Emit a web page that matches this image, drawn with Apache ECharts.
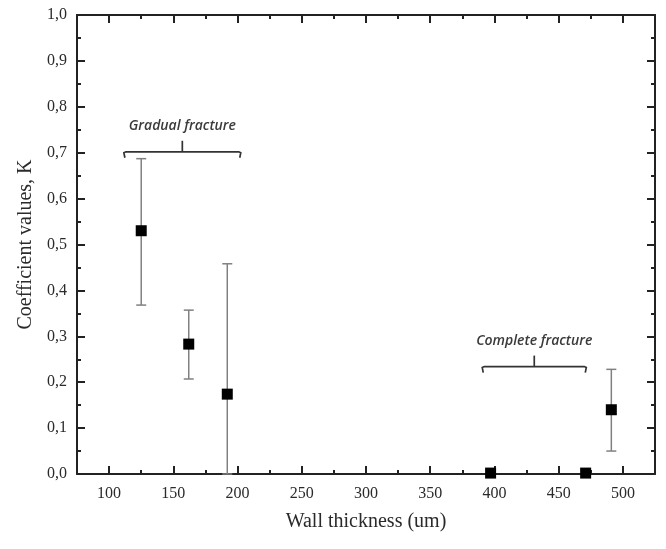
<!DOCTYPE html>
<html>
<head>
<meta charset="utf-8">
<script src="https://cdn.jsdelivr.net/npm/echarts@6/dist/echarts.min.js"></script>
<style>html,body{margin:0;padding:0;background:#fff}#c{width:666px;height:549px}</style>
</head>
<body>
<div id="c"></div>
<script>
// ---- data ----
var thickness = [125, 162, 192, 397, 471, 491];
var kValues   = [0.53, 0.283, 0.174, 0.002, 0.002, 0.14];
var errLow    = [0.368, 0.207, 0.0, null, null, 0.05];
var errHigh   = [0.687, 0.357, 0.458, null, null, 0.228];
var xMajorTicks = [100, 150, 200, 250, 300, 350, 400, 450, 500];
var xMinorTicks = [125, 175, 225, 275, 325, 375, 425, 475];
var bracketStart = [111.5, 390.5];
var bracketEnd   = [202.5, 471.5];
var bracketMid   = [157, 431];
var bracketLevel = [0.702, 0.234];
var bracketLabel = ['Gradual fracture', 'Complete fracture'];

var errData = [];
for (var i = 0; i < thickness.length; i++) {
  if (errLow[i] !== null) errData.push([thickness[i], errLow[i], errHigh[i]]);
}
var pointData = thickness.map(function (t, i) { return [t, kValues[i]]; });
var bracketData = bracketStart.map(function (s, i) {
  return [s, bracketEnd[i], bracketMid[i], bracketLevel[i], bracketLabel[i]];
});

var AX = '#222';
var serif = 'Liberation Serif';
function xAxisDef(pos, major, labels) {
  return {
    type: 'value', position: pos, min: 75, max: 525,
    axisLine: { show: major, onZero: false, lineStyle: { color: AX, width: 2 } },
    axisTick: { show: true, inside: true, length: major ? 8 : 4,
      customValues: major ? xMajorTicks : xMinorTicks,
      lineStyle: { color: AX, width: 2 } },
    axisLabel: labels ? { show: true, customValues: xMajorTicks, margin: 12,
      fontFamily: serif, fontSize: 16, color: '#2a2a2a' } : { show: false },
    splitLine: { show: false },
    name: labels ? 'Wall thickness (um)' : '',
    nameLocation: 'middle', nameGap: 38,
    nameTextStyle: { fontFamily: serif, fontSize: 20, color: '#2a2a2a' }
  };
}
function yAxisDef(pos, labels) {
  return {
    type: 'value', position: pos, min: 0, max: 1, interval: 0.1,
    axisLine: { show: true, onZero: false, lineStyle: { color: AX, width: 2 } },
    axisTick: { show: true, inside: true, length: 8, lineStyle: { color: AX, width: 2 } },
    minorTick: { show: true, splitNumber: 2, length: 4, lineStyle: { color: AX, width: 2 } },
    axisLabel: labels ? { show: true, margin: 10, fontFamily: serif, fontSize: 16, color: '#2a2a2a',
      formatter: function (v) { return v.toFixed(1).replace('.', ','); } } : { show: false },
    splitLine: { show: false },
    name: labels ? 'Coefficient values, K' : '',
    nameLocation: 'middle', nameGap: 38,
    nameTextStyle: { fontFamily: serif, fontSize: 20, color: '#2a2a2a' }
  };
}

var chart = echarts.init(document.getElementById('c'), null, { renderer: 'canvas' });
chart.setOption({
  animation: false,
  backgroundColor: '#fff',
  grid: { left: 77, top: 15, right: 11, bottom: 75, containLabel: false },
  xAxis: [xAxisDef('bottom', true, true), xAxisDef('bottom', false, false),
          xAxisDef('top', true, false), xAxisDef('top', false, false)],
  yAxis: [yAxisDef('left', true), yAxisDef('right', false)],
  series: [
    {
      type: 'custom', xAxisIndex: 0, yAxisIndex: 0, data: errData, z: 2,
      renderItem: function (params, api) {
        var lo = api.coord([api.value(0), api.value(1)]);
        var hi = api.coord([api.value(0), api.value(2)]);
        var w = 5;
        var st = { stroke: '#808080', lineWidth: 1.5 };
        return { type: 'group', children: [
          { type: 'line', shape: { x1: lo[0], y1: lo[1], x2: hi[0], y2: hi[1] }, style: st },
          { type: 'line', shape: { x1: hi[0] - w, y1: hi[1], x2: hi[0] + w, y2: hi[1] }, style: st },
          { type: 'line', shape: { x1: lo[0] - w, y1: lo[1], x2: lo[0] + w, y2: lo[1] }, style: st }
        ]};
      }
    },
    {
      type: 'scatter', xAxisIndex: 0, yAxisIndex: 0, data: pointData, z: 5,
      symbol: 'rect', symbolSize: 11, itemStyle: { color: '#000', opacity: 1 }
    },
    {
      type: 'custom', xAxisIndex: 0, yAxisIndex: 0, data: bracketData, z: 3,
      renderItem: function (params, api) {
        var y = api.value(3);
        var a = api.coord([api.value(0), y]);
        var b = api.coord([api.value(1), y]);
        var m = api.coord([api.value(2), y]);
        var st = { stroke: '#333', lineWidth: 1.7, fill: null };
        return { type: 'group', children: [
          { type: 'polyline', shape: { points: [[a[0] + 1, a[1] + 6], [a[0], a[1] + 1], [a[0] + 2, a[1]], [b[0] - 2, b[1]], [b[0], b[1] + 1], [b[0] - 1, b[1] + 6]] }, style: st },
          { type: 'line', shape: { x1: m[0], y1: m[1], x2: m[0], y2: m[1] - 11 }, style: st },
          { type: 'text', x: m[0], y: m[1] - 26,
            style: { text: bracketLabel[params.dataIndex], fontFamily: 'Open Sans', fontStyle: 'italic',
              fontWeight: 600, fontSize: 14, fill: '#3a3a3a', align: 'center', verticalAlign: 'middle' } }
        ]};
      }
    }
  ]
});
</script>
</body>
</html>
